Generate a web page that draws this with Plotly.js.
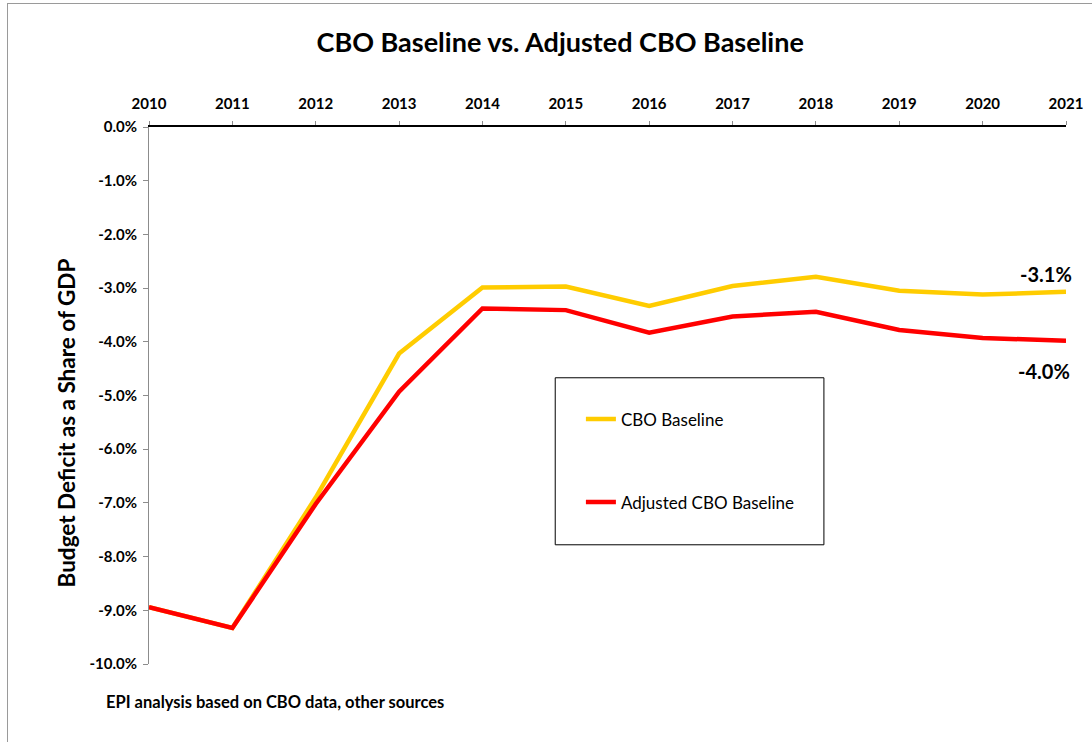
<!DOCTYPE html>
<html>
<head>
<meta charset="utf-8">
<script src="https://cdn.plot.ly/plotly-3.0.1.min.js"></script>
<style>
html,body{margin:0;padding:0;background:#fff;overflow:hidden;}
#frame{position:absolute;left:7px;top:3px;width:1300px;height:900px;border:1px solid #9a9a9a;box-sizing:border-box;}
#chart{position:absolute;left:0;top:0;width:1092px;height:742px;}
</style>
</head>
<body>
<div id="frame"></div>
<div id="chart"></div>
<script>
const years = [2010,2011,2012,2013,2014,2015,2016,2017,2018,2019,2020,2021];
const cboBaseline = [-8.94,-9.33,-6.9,-4.22,-2.99,-2.97,-3.33,-2.96,-2.79,-3.05,-3.12,-3.07];
const adjustedBaseline = [-8.94,-9.33,-7.02,-4.93,-3.38,-3.41,-3.83,-3.53,-3.44,-3.78,-3.93,-3.98];
const yTickVals = [0,-1,-2,-3,-4,-5,-6,-7,-8,-9,-10];
const yTickText = ["0.0%","-1.0%","-2.0%","-3.0%","-4.0%","-5.0%","-6.0%","-7.0%","-8.0%","-9.0%","-10.0%"];
const endLabels = ["-3.1%","-4.0%"];

const FONT = "Lato, 'Open Sans', sans-serif";

const traces = [
  {x: years, y: cboBaseline, name: "CBO Baseline", mode: "lines", type: "scatter",
   line: {color: "#FFCC00", width: 4.5}, legendgroup: "a"},
  {x: years, y: adjustedBaseline, name: "Adjusted CBO Baseline", mode: "lines", type: "scatter",
   line: {color: "#FF0000", width: 4.5}, legendgroup: "b"}
];

const layout = {
  width: 1092, height: 742,
  paper_bgcolor: "rgba(0,0,0,0)", plot_bgcolor: "rgba(0,0,0,0)",
  margin: {l: 149, r: 26, t: 127, b: 78},
  font: {family: FONT, color: "#000"},
  title: {text: "CBO Baseline vs. Adjusted CBO Baseline", x: 0.513, xanchor: "center", y: 0.943, yanchor: "middle",
          font: {family: FONT, size: 27, weight: "bold", color: "#000"}},
  showlegend: true,
  legend: {x: 0.471, y: 0.489, xanchor: "left", yanchor: "top", bgcolor: "rgba(0,0,0,0)",
           borderwidth: 0, tracegroupgap: 58, traceorder: "grouped",
           font: {family: FONT, size: 17, color: "#000"}},
  xaxis: {
    range: [2010, 2021], side: "top", tickmode: "array", tickvals: years, ticktext: years.map(String),
    showgrid: false, zeroline: false, showline: true, linecolor: "#000", linewidth: 2.5,
    ticks: "outside", ticklen: 4, tickcolor: "#8c8c8c", tickwidth: 1, ticklabelstandoff: 6,
    tickfont: {family: FONT, size: 15, weight: "bold", color: "#000"}
  },
  yaxis: {
    range: [-10, 0], tickmode: "array", tickvals: yTickVals, ticktext: yTickText,
    showgrid: false, zeroline: false, showline: true, linecolor: "#8c8c8c", linewidth: 1,
    ticks: "outside", ticklen: 5, tickcolor: "#8c8c8c", tickwidth: 1, ticklabelstandoff: 3,
    tickfont: {family: FONT, size: 15, weight: "bold", color: "#000"}
  },
  shapes: [
    {type: "rect", xref: "paper", yref: "paper", x0: 0.443, x1: 0.736, y0: 0.222, y1: 0.533,
     line: {color: "#000", width: 1}, fillcolor: "rgba(0,0,0,0)"}
  ],
  annotations: [
    {x: -0.0905, y: 0.448, xref: "paper", yref: "paper", textangle: -90, showarrow: false,
     xanchor: "center", yanchor: "middle", text: "Budget Deficit as a Share of GDP",
     font: {family: FONT, size: 22.5, weight: "bold", color: "#000"}},
    {x: years[years.length-1], y: cboBaseline[cboBaseline.length-1], xref: "x", yref: "y",
     text: endLabels[0], showarrow: false, xanchor: "right", yanchor: "bottom", yshift: 4, xshift: 8,
     font: {family: FONT, size: 20, weight: "bold", color: "#000"}},
    {x: years[years.length-1], y: adjustedBaseline[adjustedBaseline.length-1], xref: "x", yref: "y",
     text: endLabels[1], showarrow: false, xanchor: "right", yanchor: "top", yshift: -16, xshift: 6,
     font: {family: FONT, size: 20, weight: "bold", color: "#000"}},
    {x: -0.049, y: -0.0708, xref: "paper", yref: "paper", xanchor: "left", yanchor: "middle",
     text: "EPI analysis based on CBO data, other sources", showarrow: false,
     font: {family: FONT, size: 16.5, weight: "bold", color: "#000"}}
  ]
};

Plotly.newPlot("chart", traces, layout, {displayModeBar: false, staticPlot: true});
</script>
</body>
</html>
